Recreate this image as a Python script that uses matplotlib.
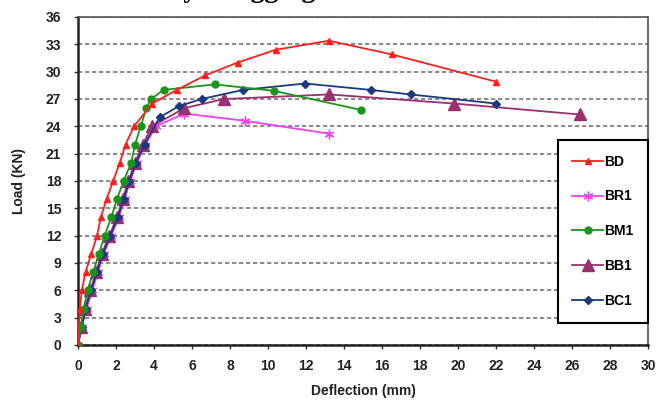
import matplotlib.pyplot as plt

plt.rcParams['font.family'] = 'Liberation Sans'
plt.rcParams['font.weight'] = 'bold'

# load-deflection readings for each beam (deflection in mm, load in kN)
bd_defl = [0, 0.1, 0.2, 0.4, 0.7, 1.0, 1.2, 1.5, 1.85, 2.2, 2.5, 2.95, 3.9, 5.2, 6.7, 8.4, 10.4, 13.2, 16.5, 22.0]
bd_load = [0, 4, 6, 8, 10, 12, 14, 16, 18, 20, 22, 24, 26.5, 28, 29.6, 31, 32.4, 33.4, 31.9, 28.9]

br1_defl = [0, 0.2, 0.45, 0.75, 1.05, 1.35, 1.75, 2.15, 2.45, 2.75, 3.1, 3.55, 4.1, 5.6, 8.8, 13.2]
br1_load = [0, 2, 4, 6, 8, 10, 12, 14, 16, 18, 20, 22, 24, 25.4, 24.6, 23.2]

bm1_defl = [0, 0.15, 0.3, 0.5, 0.8, 1.1, 1.4, 1.75, 2.05, 2.4, 2.8, 3.0, 3.3, 3.6, 3.85, 4.5, 7.2, 10.3, 14.9]
bm1_load = [0, 2, 4, 6, 8, 10, 12, 14, 16, 18, 20, 22, 24, 26, 27, 28, 28.6, 27.9, 25.8]

bb1_defl = [0, 0.15, 0.35, 0.65, 0.95, 1.25, 1.65, 2.05, 2.35, 2.65, 3.0, 3.4, 3.9, 5.6, 7.7, 13.2, 19.8, 26.4]
bb1_load = [0, 2, 4, 6, 8, 10, 12, 14, 16, 18, 20, 22, 24, 26, 27, 27.5, 26.5, 25.3]

bc1_defl = [0, 0.2, 0.4, 0.7, 1.0, 1.3, 1.7, 2.1, 2.4, 2.7, 3.05, 3.5, 4.3, 5.3, 6.5, 8.7, 11.95, 15.4, 17.5, 22.0]
bc1_load = [0, 2, 4, 6, 8, 10, 12, 14, 16, 18, 20, 22, 25, 26.2, 27, 28, 28.7, 28, 27.5, 26.5]

fig = plt.figure(figsize=(6.59, 4.0), dpi=100)
ax = fig.add_axes([78 / 659, 55 / 400, 570 / 659, 328 / 400])

ax.plot(bd_defl, bd_load, color='#ff1f1f', lw=1.3, marker='^', ms=5, label='BD', zorder=6)
ax.plot(br1_defl, br1_load, color='#f040f0', lw=1.3, marker=(6, 2, 0), ms=7, label='BR1', zorder=3)
ax.plot(bm1_defl, bm1_load, color='#1a951a', lw=1.3, marker='o', ms=5, label='BM1', zorder=5)
ax.plot(bb1_defl, bb1_load, color='#9a3070', lw=1.3, marker='^', ms=8, label='BB1', zorder=3)
ax.plot(bc1_defl, bc1_load, color='#1c3a80', lw=1.3, marker='D', ms=4, label='BC1', zorder=4)

ax.set_xlim(0, 30)
ax.set_ylim(0, 36)
ax.set_xticks(range(0, 31, 2))
ax.set_yticks(range(0, 37, 3))
ax.tick_params(labelsize=10, length=3, width=1, colors='#333333', labelcolor='#222222')
ax.tick_params(axis='y', pad=9)
ax.tick_params(axis='x', pad=7)
ax.yaxis.grid(True, linestyle=(0, (2.2, 1.4)), lw=1.4, color='#8a8a8a')
ax.set_axisbelow(True)

for side in ['top', 'right']:
    ax.spines[side].set_color('#555555')
    ax.spines[side].set_linewidth(1.2)
for side in ['left', 'bottom']:
    ax.spines[side].set_color('#222222')
    ax.spines[side].set_linewidth(1.8)

ax.set_xlabel('Deflection (mm)', fontsize=10, fontweight='bold', color='#222222', labelpad=8)
ax.set_ylabel('Load (KN)', fontsize=10, fontweight='bold', color='#222222', labelpad=14)

leg = ax.legend(loc='upper right', bbox_to_anchor=(1.0, 0.625), borderaxespad=0,
                fancybox=False, edgecolor='black', framealpha=1,
                labelspacing=1.5, handlelength=2.2, handletextpad=0.1,
                borderpad=1.05, prop={'weight': 'bold', 'size': 10})
leg.get_frame().set_linewidth(1.5)
leg.set_zorder(10)

# heading of the figure sits above the top edge, only its tails show
fig.text(168 / 659, 1.008, 'by Dragging', fontsize=20, fontweight='bold',
         family='Liberation Serif', va='baseline', ha='left')

fig.savefig('out.png', dpi=100)
